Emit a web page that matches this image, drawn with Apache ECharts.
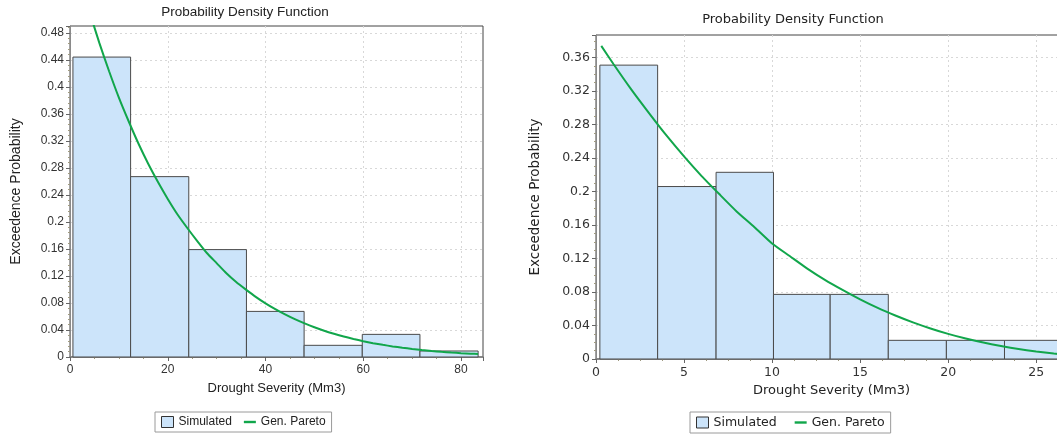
<!DOCTYPE html>
<html>
<head>
<meta charset="utf-8">
<script src="https://cdn.jsdelivr.net/npm/echarts@6/dist/echarts.min.js"></script>
<style>
html,body{margin:0;padding:0;background:#fff;overflow:hidden;width:1057px;height:434px;}
#wrap{position:relative;width:1057px;height:434px;overflow:hidden;}
#c1{position:absolute;left:0;top:0;width:520px;height:434px;}
#c2{position:absolute;left:520px;top:0;width:570px;height:434px;}
</style>
</head>
<body>
<div id="wrap"><div id="c1"></div><div id="c2"></div></div>
<script>
// ---- data ----
const titleText = 'Probability Density Function';
const xName = 'Drought Severity (Mm3)';
const yName = 'Exceedence Probability';
const legendNames = ['Simulated', 'Gen. Pareto'];

// left chart
const leftBinEdges = [0.6, 12.4, 24.3, 36.1, 47.9, 59.8, 71.6, 83.5];
const leftHeights = [0.444, 0.267, 0.159, 0.0675, 0.0173, 0.0335, 0.0089];
const leftCurveX = [0.6, 2, 4, 6, 8, 10, 12, 14, 16, 18, 20, 22, 24, 26, 28, 30, 32, 34, 36, 38, 40,
  42, 44, 46, 48, 50, 52, 54, 56, 58, 60, 62, 64, 66, 68, 70, 72, 74, 76, 78, 80, 82, 83.5];
const leftCurveY = [0.598, 0.560, 0.511, 0.465, 0.423, 0.384, 0.349, 0.316, 0.286, 0.259, 0.234, 0.211,
  0.191, 0.172, 0.154, 0.139, 0.124, 0.111, 0.0998, 0.0891, 0.0795, 0.0709, 0.0631, 0.0560, 0.0497,
  0.0440, 0.0389, 0.0344, 0.0303, 0.0267, 0.0234, 0.0205, 0.0180, 0.0157, 0.0137, 0.0119, 0.0103,
  0.0089, 0.0077, 0.0066, 0.0057, 0.0049, 0.0044];

// right chart
const rightBinEdges = [0.22, 3.5, 6.82, 10.08, 13.3, 16.6, 19.9, 23.2, 26.5];
const rightHeights = [0.351, 0.206, 0.223, 0.0772, 0.0772, 0.0223, 0.0223, 0.0223];
const rightCurveX = [0.3, 1, 2, 3, 4, 5, 6, 7, 8, 9, 10, 11, 12, 13, 14, 15, 16, 17, 18, 19, 20,
  21, 22, 23, 24, 25, 26, 26.5];
const rightCurveY = [0.374, 0.352, 0.322, 0.294, 0.267, 0.242, 0.2185, 0.197, 0.176, 0.1575, 0.138,
  0.123, 0.108, 0.0945, 0.0825, 0.0712, 0.0610, 0.0520, 0.0438, 0.0365, 0.0300, 0.0244, 0.0196,
  0.0155, 0.0119, 0.0090, 0.0066, 0.0056];

// ---- styles ----
const BAR_FILL = '#cce4fa';
const BAR_STROKE = '#4a4a4a';
const LINE_COLOR = '#11a64b';

function bins(edges, heights) {
  return heights.map((h, i) => [edges[i], edges[i + 1], h]);
}
function pairs(xs, ys) {
  return xs.map((x, i) => [x, ys[i]]);
}
function renderBar(params, api) {
  const p0 = api.coord([api.value(0), api.value(2)]);
  const p1 = api.coord([api.value(1), 0]);
  return {
    type: 'rect',
    shape: { x: p0[0], y: p0[1], width: p1[0] - p0[0], height: p1[1] - p0[1] },
    style: { fill: BAR_FILL, stroke: BAR_STROKE, lineWidth: 1 }
  };
}

function buildOption(c) {
  const split = { show: true, showMinLine: false, showMaxLine: false,
    lineStyle: { color: '#d8d8d8', type: [2, 3], width: 1 } };
  return {
    animation: false,
    backgroundColor: '#fff',
    title: { text: titleText, left: c.titleX, top: c.titleTop, textAlign: 'center', padding: 0,
      textStyle: { fontFamily: c.font, fontSize: c.titleSize, fontWeight: 'normal', color: '#222' } },
    legend: {
      left: c.legendX, top: 412, orient: 'horizontal',
      padding: [4, 6, 4, 6], itemGap: c.legendGap, itemWidth: 12, itemHeight: 11,
      borderColor: '#9a9a9a', borderWidth: 1, backgroundColor: '#fff',
      selectedMode: false,
      textStyle: { fontFamily: c.font, fontSize: c.legendSize, color: '#222' },
      data: [
        { name: legendNames[0], icon: 'rect', itemStyle: { color: BAR_FILL, borderColor: '#333', borderWidth: 1 } },
        { name: legendNames[1], icon: 'path://M0,0H12V2.4H0Z', itemStyle: { color: LINE_COLOR, borderWidth: 0 } }
      ]
    },
    grid: { left: c.gridLeft, top: c.gridTop, width: c.gridWidth, height: c.gridHeight,
      show: true, borderColor: '#444', borderWidth: 1, backgroundColor: '#fff' },
    xAxis: {
      type: 'value', min: 0, max: c.xMax, interval: c.xInterval,
      name: xName, nameLocation: 'middle', nameGap: c.xNameGap,
      nameTextStyle: { fontFamily: c.font, fontSize: c.xNameSize, color: '#222' },
      axisLine: { show: true, onZero: false, lineStyle: { color: '#808080', width: 1.5 } },
      axisTick: { show: true, length: 4, lineStyle: { color: '#666' } },
      minorTick: { show: true, splitNumber: 4, length: 2, lineStyle: { color: '#a09a80' } },
      axisLabel: { fontFamily: c.font, fontSize: c.tickSize, color: '#333', margin: 7, showMaxLabel: false },
      splitLine: split
    },
    yAxis: {
      type: 'value', min: 0, max: c.yMax, interval: 0.04,
      name: yName, nameLocation: 'middle', nameGap: c.yNameGap,
      nameTextStyle: { fontFamily: c.font, fontSize: c.yNameSize, color: '#222' },
      axisLine: { show: true, lineStyle: { color: '#8a8a8a', width: 1 } },
      axisTick: { show: true, length: 4, lineStyle: { color: '#666' } },
      minorTick: { show: true, splitNumber: c.yMinor, length: 2, lineStyle: { color: '#a09a80' } },
      axisLabel: { fontFamily: c.font, fontSize: c.tickSize, color: '#333', margin: 6, showMaxLabel: false },
      splitLine: split
    },
    series: [
      { name: legendNames[0], type: 'custom',
        renderItem: renderBar, encode: { x: [0, 1], y: 2 },
        itemStyle: { color: BAR_FILL, borderColor: '#333' },
        data: bins(c.edges, c.heights), z: 2 },
      { name: legendNames[1], type: 'line',
        symbol: 'none', smooth: 0.2, clip: true,
        lineStyle: { color: LINE_COLOR, width: 2 }, itemStyle: { color: LINE_COLOR },
        data: pairs(c.curveX, c.curveY), z: 3 }
    ]
  };
}

echarts.init(document.getElementById('c1')).setOption(buildOption({
  font: 'Liberation Sans, Arial, sans-serif',
  titleSize: 13.5, legendSize: 12, tickSize: 12, xNameSize: 13, yNameSize: 14, legendGap: 12,
  titleX: 245, titleTop: 5, legendX: 155,
  gridLeft: 70, gridTop: 26, gridWidth: 413, gridHeight: 331,
  xMax: 84.5, xInterval: 20, xNameGap: 25, yMax: 0.49, yNameGap: 47, yMinor: 5,
  edges: leftBinEdges, heights: leftHeights, curveX: leftCurveX, curveY: leftCurveY
}));
echarts.init(document.getElementById('c2')).setOption(buildOption({
  font: 'DejaVu Sans, sans-serif',
  titleSize: 13, legendSize: 12.5, tickSize: 12.5, xNameSize: 13, yNameSize: 13.5, legendGap: 18,
  titleX: 273, titleTop: 13, legendX: 170,
  gridLeft: 74, gridTop: 35, gridWidth: 473, gridHeight: 324,
  xMax: 26.75, xInterval: 5, xNameGap: 23, yMax: 0.387, yNameGap: 54, yMinor: 4,
  edges: rightBinEdges, heights: rightHeights, curveX: rightCurveX, curveY: rightCurveY
}));
</script>
</body>
</html>
